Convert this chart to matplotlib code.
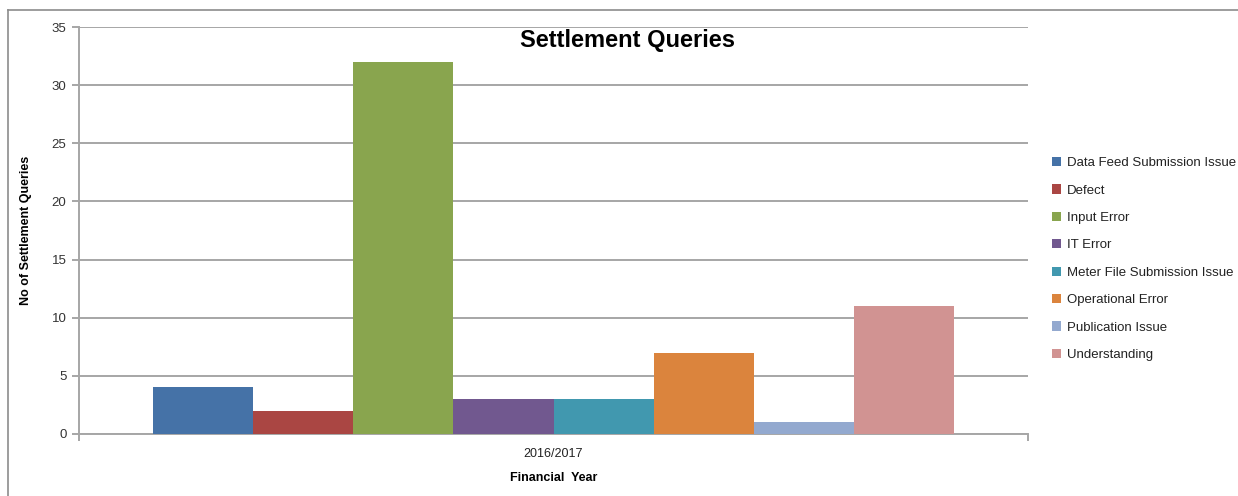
import matplotlib
matplotlib.use("Agg")
import matplotlib.pyplot as plt
from matplotlib.lines import Line2D
from matplotlib.patches import Patch

plt.rcParams['font.family'] = ['Liberation Sans', 'DejaVu Sans']

categories = ["2016/2017"]
series_names = ["Data Feed Submission Issue", "Defect", "Input Error", "IT Error",
                "Meter File Submission Issue", "Operational Error", "Publication Issue",
                "Understanding"]
series_values = [4, 2, 32, 3, 3, 7, 1, 11]
colors = ["#4572A7", "#AA4643", "#89A54E", "#71588F", "#4198AF", "#DB843D", "#93A9CF", "#D19392"]
y_ticks = [0, 5, 10, 15, 20, 25, 30, 35]

W, H = 1238, 496
fig = plt.figure(figsize=(W / 100, H / 100), dpi=100)
fig.patch.set_facecolor("white")

# outer border (top and left edges visible)
fig.lines.append(Line2D([8 / W, 8 / W], [0, 1 - 10 / H], transform=fig.transFigure,
                        color="#8c8c8c", linewidth=1.2))
fig.lines.append(Line2D([8 / W, 1], [1 - 10 / H, 1 - 10 / H], transform=fig.transFigure,
                        color="#8c8c8c", linewidth=1.2))

ax = fig.add_axes([79 / W, 1 - 434 / H, (1028 - 79) / W, (434 - 27) / H])
n = len(series_values)
group = 0.843
w = group / n
for i, (name, v, c) in enumerate(zip(series_names, series_values, colors)):
    ax.bar(0 + (i - (n - 1) / 2) * w, v, width=w, color=c, label=name, zorder=3)

ax.set_xlim(-0.5, 0.5)
ax.set_ylim(0, 35)
ax.set_yticks(y_ticks)
ax.set_yticklabels([str(t) for t in y_ticks], fontsize=9.5, color="#333333")
ax.yaxis.grid(True, color="#a6a6a6", linewidth=1.4, zorder=0)
ax.set_axisbelow(True)
ax.set_xticks([0])
ax.set_xticklabels(categories, fontsize=9, color="#222222")
ax.tick_params(axis="x", length=0, pad=10)
ax.set_xticks([-0.5, 0.5], minor=True)
ax.tick_params(axis="x", which="minor", length=5, color="#a6a6a6", width=1.4)
ax.tick_params(axis="y", length=5, color="#a6a6a6", width=1.4, pad=4)
for s in ["top", "right"]:
    ax.spines[s].set_visible(False)
for s in ["left", "bottom"]:
    ax.spines[s].set_color("#a6a6a6")
    ax.spines[s].set_linewidth(1.4)

ax.set_xlabel("Financial  Year", fontsize=9, fontweight="bold", labelpad=9)
ax.set_ylabel("No of Settlement Queries", fontsize=9, fontweight="bold", labelpad=14)

fig.text(628 / W, 1 - 40 / H, "Settlement Queries", fontsize=17, fontweight="bold",
         ha="center", va="center", color="black")

handles = [Patch(facecolor=c, edgecolor="none") for c in colors]
leg = fig.legend(handles, series_names, loc="upper left", bbox_to_anchor=(1052 / W, 1 - 157 / H),
                 frameon=False, fontsize=9.5, handlelength=0.7, handleheight=0.7,
                 handletextpad=0.4, labelspacing=1.15, borderaxespad=0, borderpad=0)
for t in leg.get_texts():
    t.set_color("#222222")

fig.savefig("out.png", dpi=100, facecolor="white")
